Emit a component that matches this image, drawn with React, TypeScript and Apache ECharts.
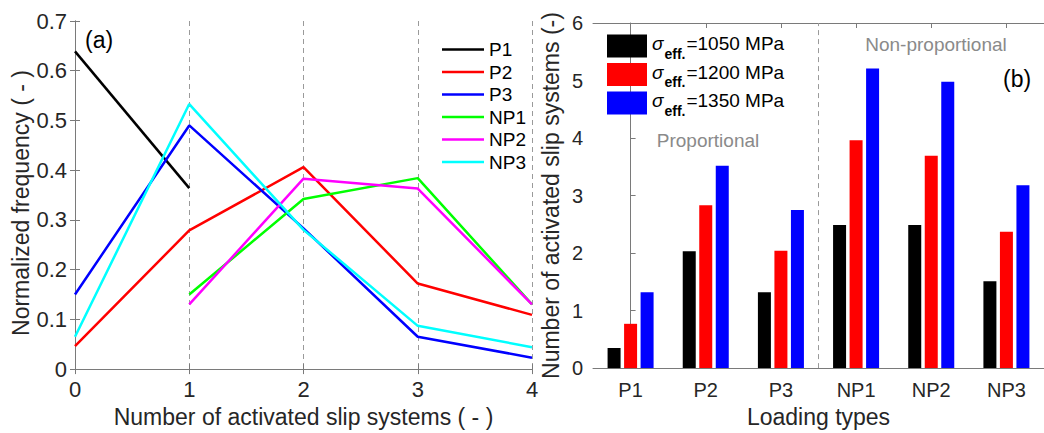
import React, { useEffect, useRef } from "react";
import * as echarts from "echarts";

const FONT = "Liberation Sans, Arial, Helvetica, sans-serif";

// Panel (a)
const SLIP_X = [0, 1, 2, 3, 4];
const FREQ_NAMES = ["P1", "P2", "P3", "NP1", "NP2", "NP3"];
const FREQ_COLORS = ["#000000", "#ff0000", "#0000ff", "#00ff00", "#ff00ff", "#00ffff"];
const P1 = [0.639, 0.364, null, null, null];
const P2 = [0.046, 0.279, 0.406, 0.172, 0.109];
const P3 = [0.15, 0.49, 0.283, 0.065, 0.023];
const NP1 = [null, 0.15, 0.342, 0.384, 0.13];
const NP2 = [null, 0.13, 0.383, 0.363, 0.13];
const NP3 = [0.065, 0.533, 0.28, 0.087, 0.044];
const FREQ_SERIES = [P1, P2, P3, NP1, NP2, NP3];
const FREQ_Y_TICKS = [0, 0.7, 0.1];

// Panel (b)
const LOADING = ["P1", "P2", "P3", "NP1", "NP2", "NP3"];
const STRESS = ["1050", "1200", "1350"];
const STRESS_COLORS = ["#000000", "#ff0000", "#0000ff"];
const S1050 = [0.35, 2.03, 1.32, 2.49, 2.49, 1.51];
const S1200 = [0.77, 2.83, 2.04, 3.96, 3.69, 2.37];
const S1350 = [1.32, 3.52, 2.75, 5.21, 4.98, 3.18];
const BAR_SERIES = [S1050, S1200, S1350];
const DIVIDER = 2.5; // between P3 and NP1

const AXIS_COLOR = "#7a7a7a";
const LABEL_COLOR = "#262626";
const DASH_COLOR = "#9a9a9a";

export default function App() {
  const ref = useRef<HTMLDivElement>(null);

  useEffect(() => {
    if (!ref.current) return;
    const chart = echarts.init(ref.current, null, { renderer: "svg" });

    const axisLine = { show: true, lineStyle: { color: AXIS_COLOR, width: 1 } };
    const axisTick = { show: true, inside: true, length: 5, lineStyle: { color: AXIS_COLOR } };
    const labelA = { color: LABEL_COLOR, fontSize: 22, fontFamily: FONT };
    const labelB = { color: LABEL_COLOR, fontSize: 20, fontFamily: FONT };
    const nameStyle = { color: LABEL_COLOR, fontSize: 23, fontFamily: FONT };

    const lineSeries = FREQ_SERIES.map((arr, i) => ({
      name: FREQ_NAMES[i],
      type: "line",
      xAxisIndex: 0,
      yAxisIndex: 0,
      symbol: "none",
      showSymbol: false,
      lineStyle: { color: FREQ_COLORS[i], width: 2.5 },
      itemStyle: { color: FREQ_COLORS[i] },
      data: SLIP_X.map((x, j) => [x, arr[j]]).filter((p) => p[1] !== null),
    }));

    const barSeries = BAR_SERIES.map((arr, i) => ({
      name: `σeff.=${STRESS[i]} MPa`,
      type: "bar",
      xAxisIndex: 2,
      yAxisIndex: 2,
      barWidth: 13,
      barGap: "27%",
      itemStyle: { color: STRESS_COLORS[i] },
      data: arr,
    }));

    const option: any = {
      animation: false,
      textStyle: { fontFamily: FONT },
      grid: [
        { left: 75, top: 21, width: 457, height: 351, show: false },
        { left: 593, top: 23, width: 457, height: 349, show: false },
      ],
      xAxis: [
        {
          type: "value",
          gridIndex: 0,
          min: 0,
          max: 4,
          interval: 1,
          axisLine,
          axisTick,
          axisLabel: { ...labelA, margin: 9 },
          splitLine: { show: true, lineStyle: { color: DASH_COLOR, type: [5, 4], width: 1 } },
          name: "Number of activated slip systems ( - )",
          nameLocation: "middle",
          nameGap: 33,
          nameTextStyle: nameStyle,
        },
        {
          type: "value",
          gridIndex: 0,
          position: "top",
          min: 0,
          max: 4,
          interval: 1,
          axisLine,
          axisTick,
          axisLabel: { show: false },
          splitLine: { show: false },
        },
        {
          type: "category",
          gridIndex: 1,
          data: LOADING,
          axisLine,
          axisTick: { ...axisTick, alignWithLabel: true },
          axisLabel: { ...labelB, margin: 12 },
          name: "Loading types",
          nameLocation: "middle",
          nameGap: 33,
          nameTextStyle: nameStyle,
        },
        {
          type: "category",
          gridIndex: 1,
          position: "top",
          data: LOADING,
          axisLine,
          axisTick: { ...axisTick, alignWithLabel: true },
          axisLabel: { show: false },
        },
        {
          type: "value",
          gridIndex: 1,
          min: -0.5,
          max: 5.5,
          show: false,
        },
      ],
      yAxis: [
        {
          type: "value",
          gridIndex: 0,
          min: FREQ_Y_TICKS[0],
          max: FREQ_Y_TICKS[1],
          interval: FREQ_Y_TICKS[2],
          axisLine,
          axisTick,
          axisLabel: { ...labelA, margin: 8 },
          splitLine: { show: false },
          name: "Normalized frequency ( - )",
          nameLocation: "middle",
          nameGap: 42,
          nameTextStyle: { ...nameStyle, padding: [0, 16, 0, 0] },
        },
        {
          type: "value",
          gridIndex: 0,
          position: "right",
          min: FREQ_Y_TICKS[0],
          max: FREQ_Y_TICKS[1],
          interval: FREQ_Y_TICKS[2],
          axisLine,
          axisTick,
          axisLabel: { show: false },
          splitLine: { show: false },
        },
        {
          type: "value",
          gridIndex: 1,
          min: 0,
          max: 6,
          interval: 1,
          axisLine,
          axisTick,
          axisLabel: { ...labelB, margin: 10 },
          splitLine: { show: false },
          name: "Number of activated slip systems (-)",
          nameLocation: "middle",
          nameGap: 31,
          nameTextStyle: nameStyle,
        },
      ],
      legend: [
        {
          data: FREQ_NAMES,
          left: 437,
          top: 35,
          orient: "vertical",
          icon: "rect",
          itemWidth: 42,
          itemHeight: 2.5,
          itemGap: 3.5,
          textStyle: { color: "#000", fontSize: 19, fontFamily: FONT },
          selectedMode: false,
        },
        {
          data: barSeries.map((s) => s.name),
          left: 602,
          top: 29,
          orient: "vertical",
          itemWidth: 40,
          itemHeight: 23,
          itemGap: 2,
          icon: "rect",
          selectedMode: false,
          formatter: (name: string) => {
            const v = name.split("=")[1];
            return `{s|σ}{sub|eff.}{t|=${v}}`;
          },
          textStyle: {
            color: "#000",
            fontSize: 19,
            fontFamily: FONT,
            rich: {
              s: { fontSize: 19, fontStyle: "italic", fontFamily: FONT, color: "#000", padding: [0, 1, 5, 0] },
              sub: { fontSize: 14, fontWeight: "bold", fontFamily: FONT, color: "#000", padding: [15, 0, 0, 0] },
              t: { fontSize: 19, fontFamily: FONT, color: "#000", padding: [0, 0, 5, 1] },
            },
          },
        },
      ],
      graphic: [
        { type: "text", x: 85, y: 28, style: { text: "(a)", fontSize: 23, fontFamily: FONT, fill: "#000" } },
        { type: "text", x: 1003, y: 67, style: { text: "(b)", fontSize: 23, fontFamily: FONT, fill: "#000" } },
        {
          type: "text",
          x: 708,
          y: 131,
          style: { text: "Proportional", fontSize: 19, fontFamily: FONT, fill: "#8a8a8a", align: "center", textAlign: "center" },
        },
        {
          type: "text",
          x: 936,
          y: 35,
          style: { text: "Non-proportional", fontSize: 19, fontFamily: FONT, fill: "#8a8a8a", align: "center", textAlign: "center" },
        },
      ],
      series: [
        ...lineSeries,
        ...barSeries,
        {
          name: "divider",
          type: "line",
          xAxisIndex: 4,
          yAxisIndex: 2,
          symbol: "none",
          lineStyle: { color: DASH_COLOR, type: [5, 4], width: 1 },
          data: [
            [DIVIDER, 0],
            [DIVIDER, 6],
          ],
          silent: true,
        },
      ],
    };

    chart.setOption(option);
    return () => chart.dispose();
  }, []);

  return (
    <div
      ref={ref}
      style={{ position: "fixed", left: 0, top: 0, width: 1044, height: 433, background: "#fff" }}
    />
  );
}
